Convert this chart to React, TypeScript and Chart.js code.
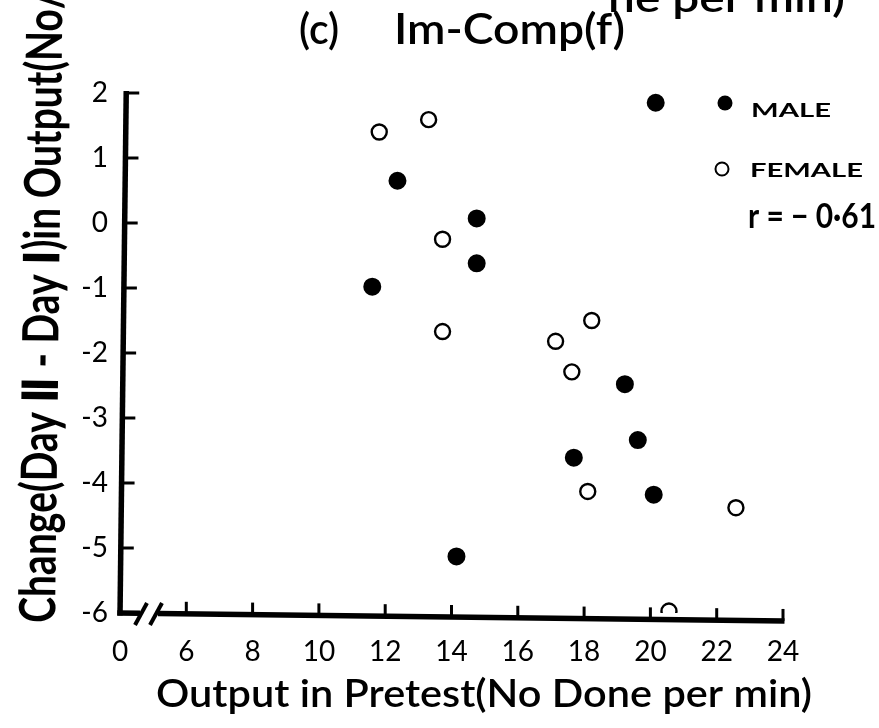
import React, { useEffect, useRef } from "react";
import { Chart, registerables } from "chart.js";

Chart.register(...registerables);

// ---- data ----
const maleX = [20.16, 12.37, 14.76, 14.76, 11.61, 19.23, 19.62, 17.69, 20.1, 14.15];
const maleY = [1.85, 0.65, 0.07, -0.62, -0.98, -2.48, -3.34, -3.61, -4.18, -5.13];
const femaleX = [11.82, 13.31, 13.73, 13.73, 18.23, 17.14, 17.63, 18.11, 22.58, 20.56];
const femaleY = [1.4, 1.59, -0.25, -1.67, -1.5, -1.82, -2.29, -4.13, -4.38, -5.97];

// the x axis is broken: the value 4 stands for "0"
const xTickValues = [4, 6, 8, 10, 12, 14, 16, 18, 20, 22, 24];
const xTickLabels = ["0", "6", "8", "10", "12", "14", "16", "18", "20", "22", "24"];
const yTickValues = [-6, -5, -4, -3, -2, -1, 0, 1, 2];
const yTickLabels = ["-6", "-5", "-4", "-3", "-2", "-1", "0", "1", "2"];

const seriesNames = ["MALE", "FEMALE"];
const titleParts = ["(c)", "Im-Comp(f)"];
const xTitle = "Output in Pretest(No Done per min)";
const yTitle = "Change(Day \u2161 - Day \u2160)in Output(No/";
const corrText = "r = \u2212 0\u00b761";
const clippedText = "ne per min)";

const FONT = "Lato, 'DejaVu Sans', sans-serif";

function fitText(ctx: any, text: string, x: number, y: number, width: number, font: string, angle = 0) {
  ctx.save();
  ctx.font = font;
  ctx.textAlign = "left";
  ctx.textBaseline = "alphabetic";
  const w = ctx.measureText(text).width;
  ctx.translate(x, y);
  ctx.rotate(angle);
  ctx.scale(width / w, 1);
  ctx.fillStyle = "#000";
  ctx.fillText(text, 0, 0);
  ctx.restore();
}

const TH = 0.012; // slight tilt of the scanned axes

const decor = {
  id: "decor",
  beforeDatasetsDraw(chart: any) {
    const ctx = chart.ctx;
    const xs = chart.scales.x;
    const ys = chart.scales.y;
    const x0 = xs.getPixelForValue(4);
    const y0 = ys.getPixelForValue(-6);
    const onX = (v: number) => {
      const px = xs.getPixelForValue(v);
      return [px, y0 + (px - x0) * TH];
    };
    const onY = (v: number) => {
      const py = ys.getPixelForValue(v);
      return [x0 + (y0 - py) * TH, py];
    };
    ctx.save();
    ctx.strokeStyle = "#000";
    ctx.lineCap = "butt";
    // y axis
    ctx.lineWidth = 5.5;
    const top = onY(2);
    ctx.beginPath();
    ctx.moveTo(top[0], top[1] - 2);
    ctx.lineTo(x0, y0 + 2.5);
    ctx.stroke();
    // y ticks (inside)
    ctx.lineWidth = 3;
    yTickValues.forEach((v) => {
      if (v === -6) return;
      const p = onY(v);
      ctx.beginPath();
      ctx.moveTo(p[0], p[1]);
      ctx.lineTo(p[0] + 13, p[1]);
      ctx.stroke();
    });
    // x axis with break
    ctx.lineWidth = 5.5;
    ctx.beginPath();
    ctx.moveTo(x0 - 2.7, y0);
    ctx.lineTo(x0 + 20, y0 + 20 * TH);
    ctx.stroke();
    const bs = x0 + 38;
    const end = onX(24);
    ctx.beginPath();
    ctx.moveTo(bs, y0 + 38 * TH);
    ctx.lineTo(end[0] + 1.5, end[1]);
    ctx.stroke();
    ctx.lineWidth = 4;
    [x0 + 21, x0 + 36].forEach((c) => {
      ctx.beginPath();
      ctx.moveTo(c - 6, y0 + 12);
      ctx.lineTo(c + 6, y0 - 10);
      ctx.stroke();
    });
    // x ticks (inside)
    ctx.lineWidth = 3;
    xTickValues.forEach((v) => {
      if (v === 4) return;
      const p = onX(v);
      ctx.beginPath();
      ctx.moveTo(p[0], p[1]);
      ctx.lineTo(p[0], p[1] - 12);
      ctx.stroke();
    });
    ctx.restore();
  },
  afterDraw(chart: any) {
    const ctx = chart.ctx;
    ctx.save();
    // titles
    fitText(ctx, titleParts[0], 299, 44, 40, `600 42px ${FONT}`);
    fitText(ctx, titleParts[1], 394, 44, 231, `600 42px ${FONT}`);
    fitText(ctx, clippedText, 608, 12, 237, `600 38px ${FONT}`);
    fitText(ctx, xTitle, 156, 707, 656, `600 38px ${FONT}`);
    fitText(ctx, yTitle, 55, 623, 632, `bold 50px ${FONT}`, -Math.PI / 2 + TH);
    // legend
    ctx.lineWidth = 2;
    ctx.strokeStyle = "#000";
    ctx.fillStyle = "#000";
    ctx.beginPath();
    ctx.arc(725, 103, 7.5, 0, Math.PI * 2);
    ctx.fill();
    ctx.fillStyle = "#fff";
    ctx.beginPath();
    ctx.arc(722, 169, 6.5, 0, Math.PI * 2);
    ctx.fill();
    ctx.stroke();
    fitText(ctx, seriesNames[0], 751, 117, 80, `bold 19px ${FONT}`);
    fitText(ctx, seriesNames[1], 750, 177, 113, `bold 19px ${FONT}`);
    fitText(ctx, corrText, 748, 228, 128, `bold 35px ${FONT}`);
    ctx.restore();
  },
};

export default function App() {
  const ref = useRef<HTMLCanvasElement | null>(null);
  useEffect(() => {
    if (!ref.current) return;
    const chart = new Chart(ref.current, {
      type: "scatter",
      data: {
        datasets: [
          {
            label: seriesNames[0],
            data: maleX.map((x, i) => ({ x, y: maleY[i] })),
            pointRadius: 8,
            pointBorderWidth: 2,
            pointBackgroundColor: "#000",
            pointBorderColor: "#000",
          },
          {
            label: seriesNames[1],
            data: femaleX.map((x, i) => ({ x, y: femaleY[i] })),
            pointRadius: 7.5,
            pointBorderWidth: 2.4,
            pointBackgroundColor: "#fff",
            pointBorderColor: "#000",
          },
        ],
      },
      options: {
        animation: false,
        responsive: false,
        devicePixelRatio: 1,
        layout: { padding: { left: 0, right: 96, top: 93, bottom: 0 } },
        plugins: {
          legend: { display: false },
          title: { display: false },
          tooltip: { enabled: false },
        },
        scales: {
          x: {
            type: "linear",
            min: 4,
            max: 24,
            afterBuildTicks: (s: any) => {
              s.ticks = xTickValues.map((v) => ({ value: v }));
            },
            afterFit: (s: any) => {
              s.height = 115;
            },
            grid: { display: false },
            border: { display: false },
            ticks: {
              color: "#000",
              padding: 14,
              maxRotation: 0,
              autoSkip: false,
              font: { family: FONT, size: 28 },
              callback: (v: any) => xTickLabels[xTickValues.indexOf(Number(v))] ?? "",
            },
          },
          y: {
            type: "linear",
            min: -6,
            max: 2,
            afterBuildTicks: (s: any) => {
              s.ticks = yTickValues.map((v) => ({ value: v }));
            },
            afterFit: (s: any) => {
              s.width = 120;
            },
            grid: { display: false },
            border: { display: false },
            ticks: {
              color: "#000",
              padding: 4,
              autoSkip: false,
              font: { family: FONT, size: 28 },
              callback: (v: any) => yTickLabels[yTickValues.indexOf(Number(v))] ?? "",
            },
          },
        },
      },
      plugins: [decor],
    });
    return () => chart.destroy();
  }, []);
  return (
    <div style={{ position: "absolute", left: 0, top: 0, width: 879, height: 728, background: "#fff" }}>
      <canvas ref={ref} width={879} height={728} style={{ display: "block" }} />
    </div>
  );
}
